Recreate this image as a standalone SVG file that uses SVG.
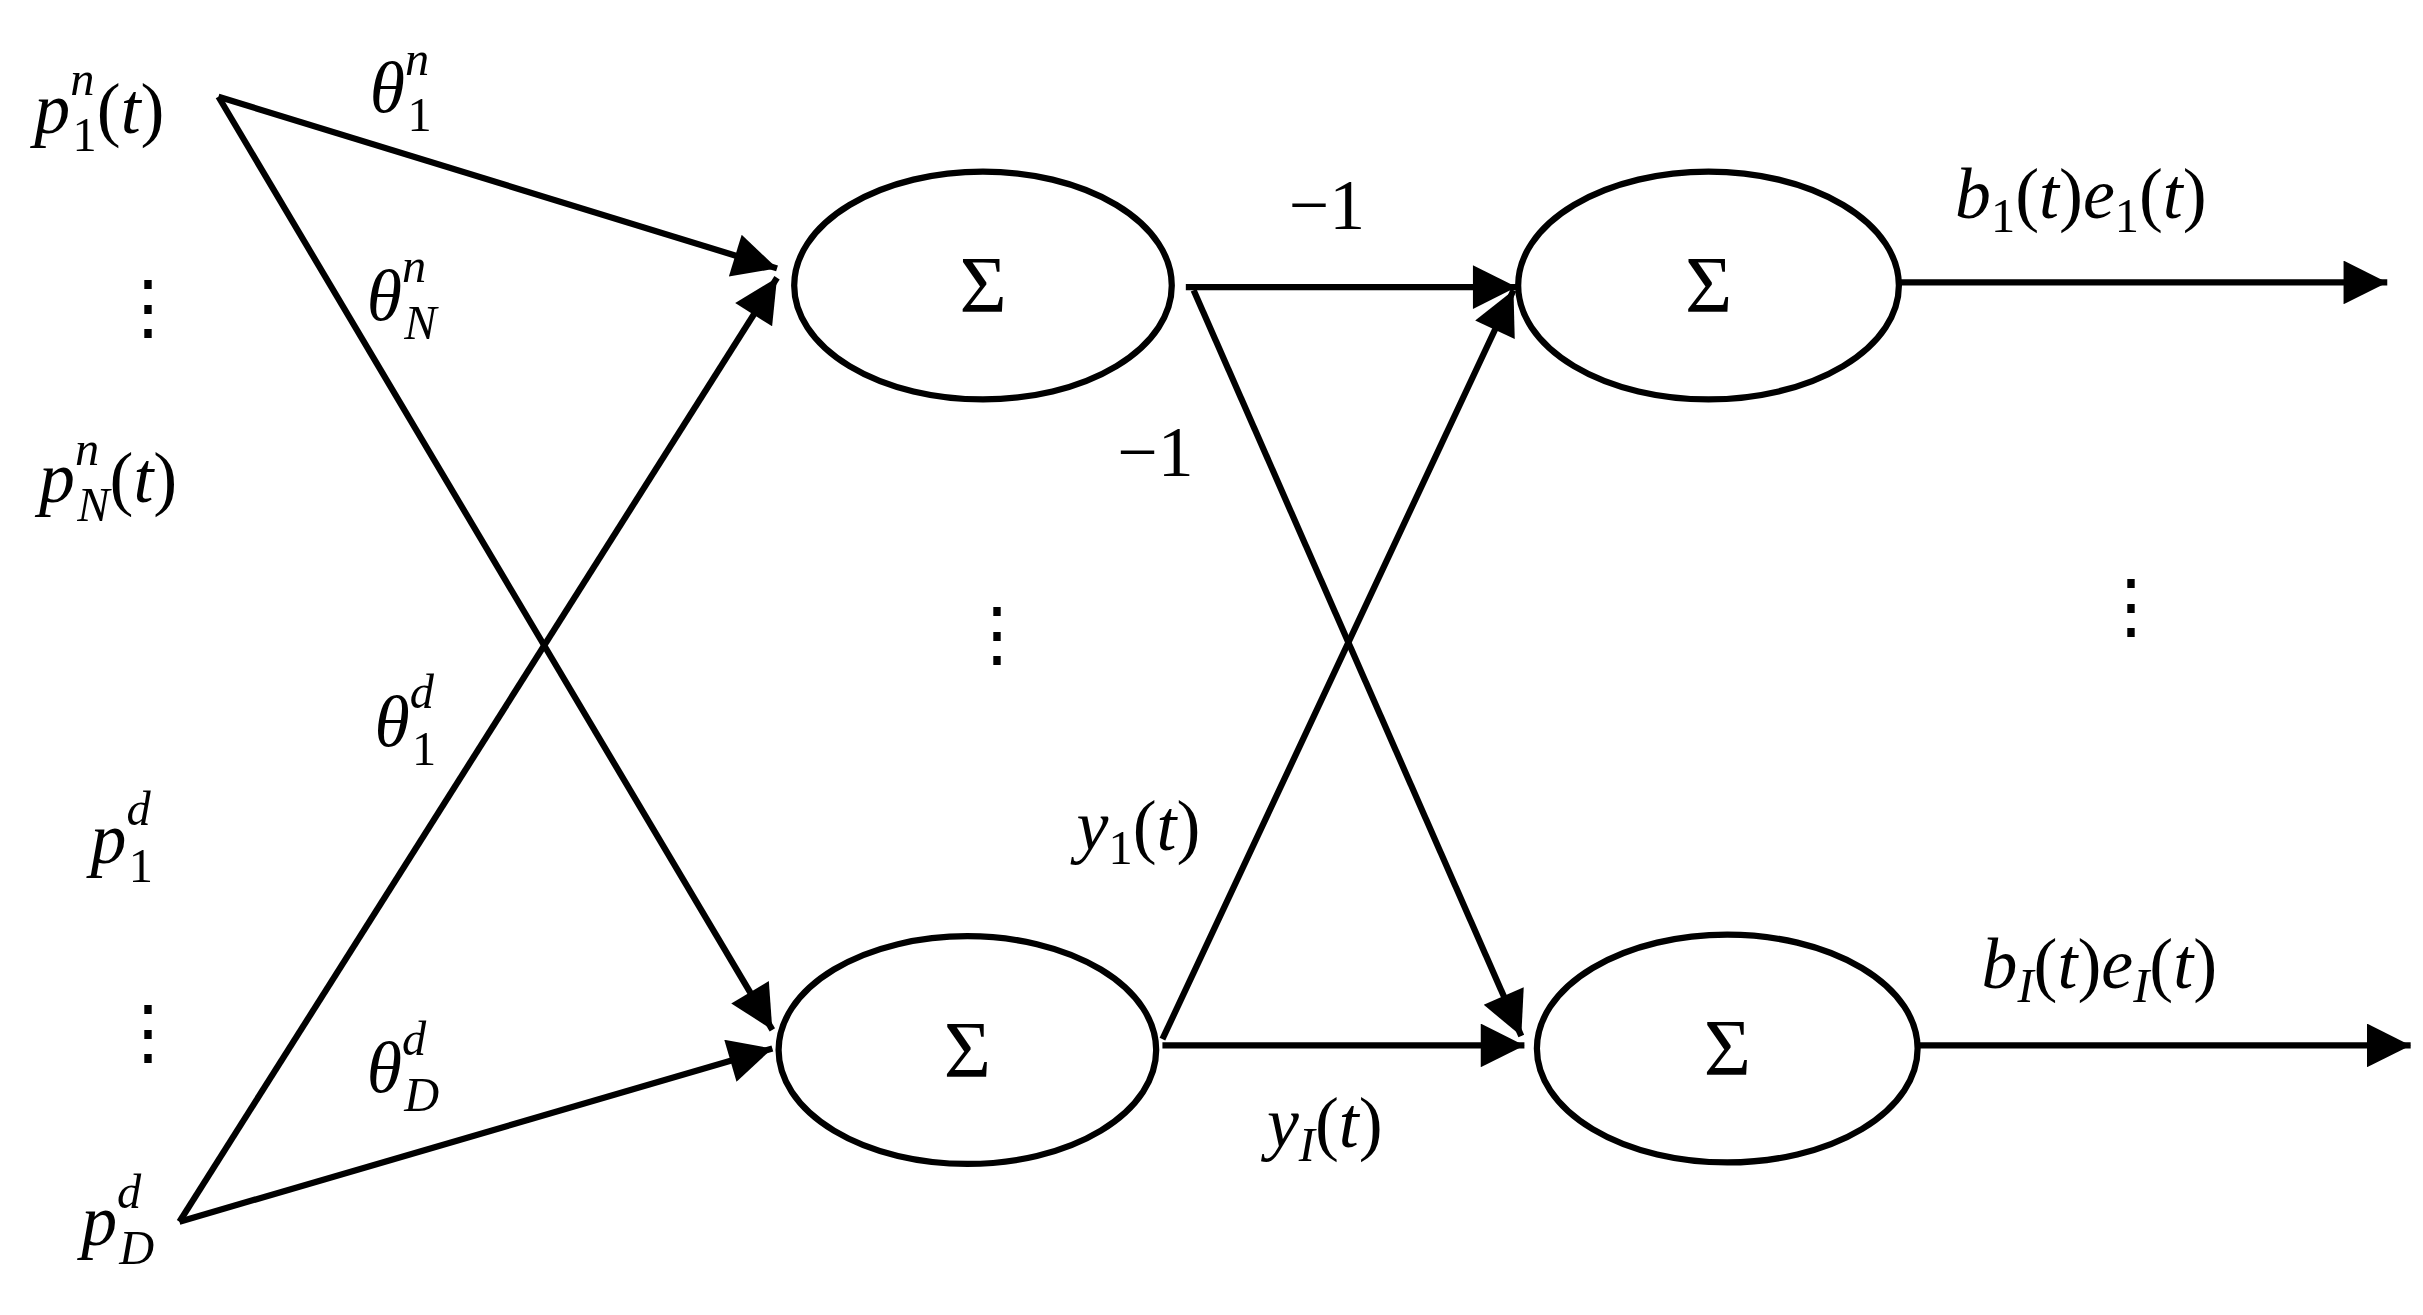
<svg xmlns="http://www.w3.org/2000/svg" width="2423" height="1315" viewBox="0 0 2423 1315">
<defs>
<marker id="ah" viewBox="0 0 10 10" refX="10" refY="5" markerWidth="11" markerHeight="7" markerUnits="strokeWidth" orient="auto"><path d="M0,0 L10,5 L0,10 z" fill="#000"/></marker>
<style>
.n{fill:#fff;stroke:#000;stroke-width:4}
.c{stroke:#000;stroke-width:4;fill:none;marker-end:url(#ah)}
text{font-family:"Liberation Serif","DejaVu Serif",serif;font-size:46px;fill:#000}
.i{font-style:italic}
.s{font-size:31px}
.sg{font-size:52px;text-anchor:middle}
</style>
</defs>
<rect width="2423" height="1315" fill="#fff"/>
<g transform="scale(1.5603)">
<g id="connectors">
<line class="c" x1="140" y1="62" x2="498" y2="172"/>
<line class="c" x1="140" y1="62" x2="495" y2="660"/>
<line class="c" x1="115" y1="783" x2="498" y2="178"/>
<line class="c" x1="115" y1="783" x2="495" y2="672"/>
<line class="c" x1="760" y1="184" x2="972" y2="184"/>
<line class="c" x1="765" y1="186" x2="975" y2="664"/>
<line class="c" x1="745" y1="670" x2="977" y2="670"/>
<line class="c" x1="745" y1="666" x2="970" y2="186"/>
<line class="c" x1="1218" y1="181" x2="1530" y2="181"/>
<line class="c" x1="1230" y1="670" x2="1545" y2="670"/>
</g>
<g id="s1"><ellipse class="n" cx="630" cy="183" rx="121" ry="73"/><text class="sg" x="630" y="200">Σ</text></g>
<g id="s2"><ellipse class="n" cx="620" cy="673" rx="121" ry="73"/><text class="sg" x="620" y="690">Σ</text></g>
<g id="s3"><ellipse class="n" cx="1095" cy="183" rx="122" ry="73"/><text class="sg" x="1095" y="200">Σ</text></g>
<g id="s4"><ellipse class="n" cx="1107" cy="672" rx="122" ry="73"/><text class="sg" x="1107" y="689">Σ</text></g>
<g id="labels">
<text x="22" y="85"><tspan class="i">p</tspan><tspan class="i s" dy="-24">n</tspan><tspan class="s" dx="-14" dy="36">1</tspan><tspan dy="-12">(</tspan><tspan class="i">t</tspan>)</text>
<text x="237" y="72"><tspan class="i">θ</tspan><tspan class="i s" dy="-24">n</tspan><tspan class="s" dx="-14" dy="36">1</tspan></text>
<text x="72" y="212">⋮</text>
<text x="235" y="205"><tspan class="i">θ</tspan><tspan class="i s" dy="-24">n</tspan><tspan class="i s" dx="-14" dy="36">N</tspan></text>
<text x="25" y="322"><tspan class="i">p</tspan><tspan class="i s" dy="-24">n</tspan><tspan class="i s" dx="-14" dy="36">N</tspan><tspan dy="-12">(</tspan><tspan class="i">t</tspan>)</text>
<text x="240" y="478"><tspan class="i">θ</tspan><tspan class="i s" dy="-24">d</tspan><tspan class="s" dx="-14" dy="36">1</tspan></text>
<text x="58" y="553"><tspan class="i">p</tspan><tspan class="i s" dy="-24">d</tspan><tspan class="s" dx="-14" dy="36">1</tspan></text>
<text x="72" y="677">⋮</text>
<text x="235" y="700"><tspan class="i">θ</tspan><tspan class="i s" dy="-24">d</tspan><tspan class="i s" dx="-14" dy="36">D</tspan></text>
<text x="52" y="798"><tspan class="i">p</tspan><tspan class="i s" dy="-24">d</tspan><tspan class="i s" dx="-14" dy="36">D</tspan></text>
<text x="826" y="147">−1</text>
<text x="716" y="305">−1</text>
<text x="616" y="422">⋮</text>
<text x="690" y="545"><tspan class="i">y</tspan><tspan class="s" dy="9">1</tspan><tspan dy="-9">(</tspan><tspan class="i">t</tspan>)</text>
<text x="812" y="735"><tspan class="i">y</tspan><tspan class="i s" dy="9">I</tspan><tspan dy="-9">(</tspan><tspan class="i">t</tspan>)</text>
<text x="1253" y="140"><tspan class="i">b</tspan><tspan class="s" dy="9">1</tspan><tspan dy="-9">(</tspan><tspan class="i">t</tspan>)<tspan class="i">e</tspan><tspan class="s" dy="9">1</tspan><tspan dy="-9">(</tspan><tspan class="i">t</tspan>)</text>
<text x="1270" y="633"><tspan class="i">b</tspan><tspan class="i s" dy="9">I</tspan><tspan dy="-9">(</tspan><tspan class="i">t</tspan>)<tspan class="i">e</tspan><tspan class="i s" dy="9">I</tspan><tspan dy="-9">(</tspan><tspan class="i">t</tspan>)</text>
<text x="1343" y="404">⋮</text>
</g>
</g>
</svg>
